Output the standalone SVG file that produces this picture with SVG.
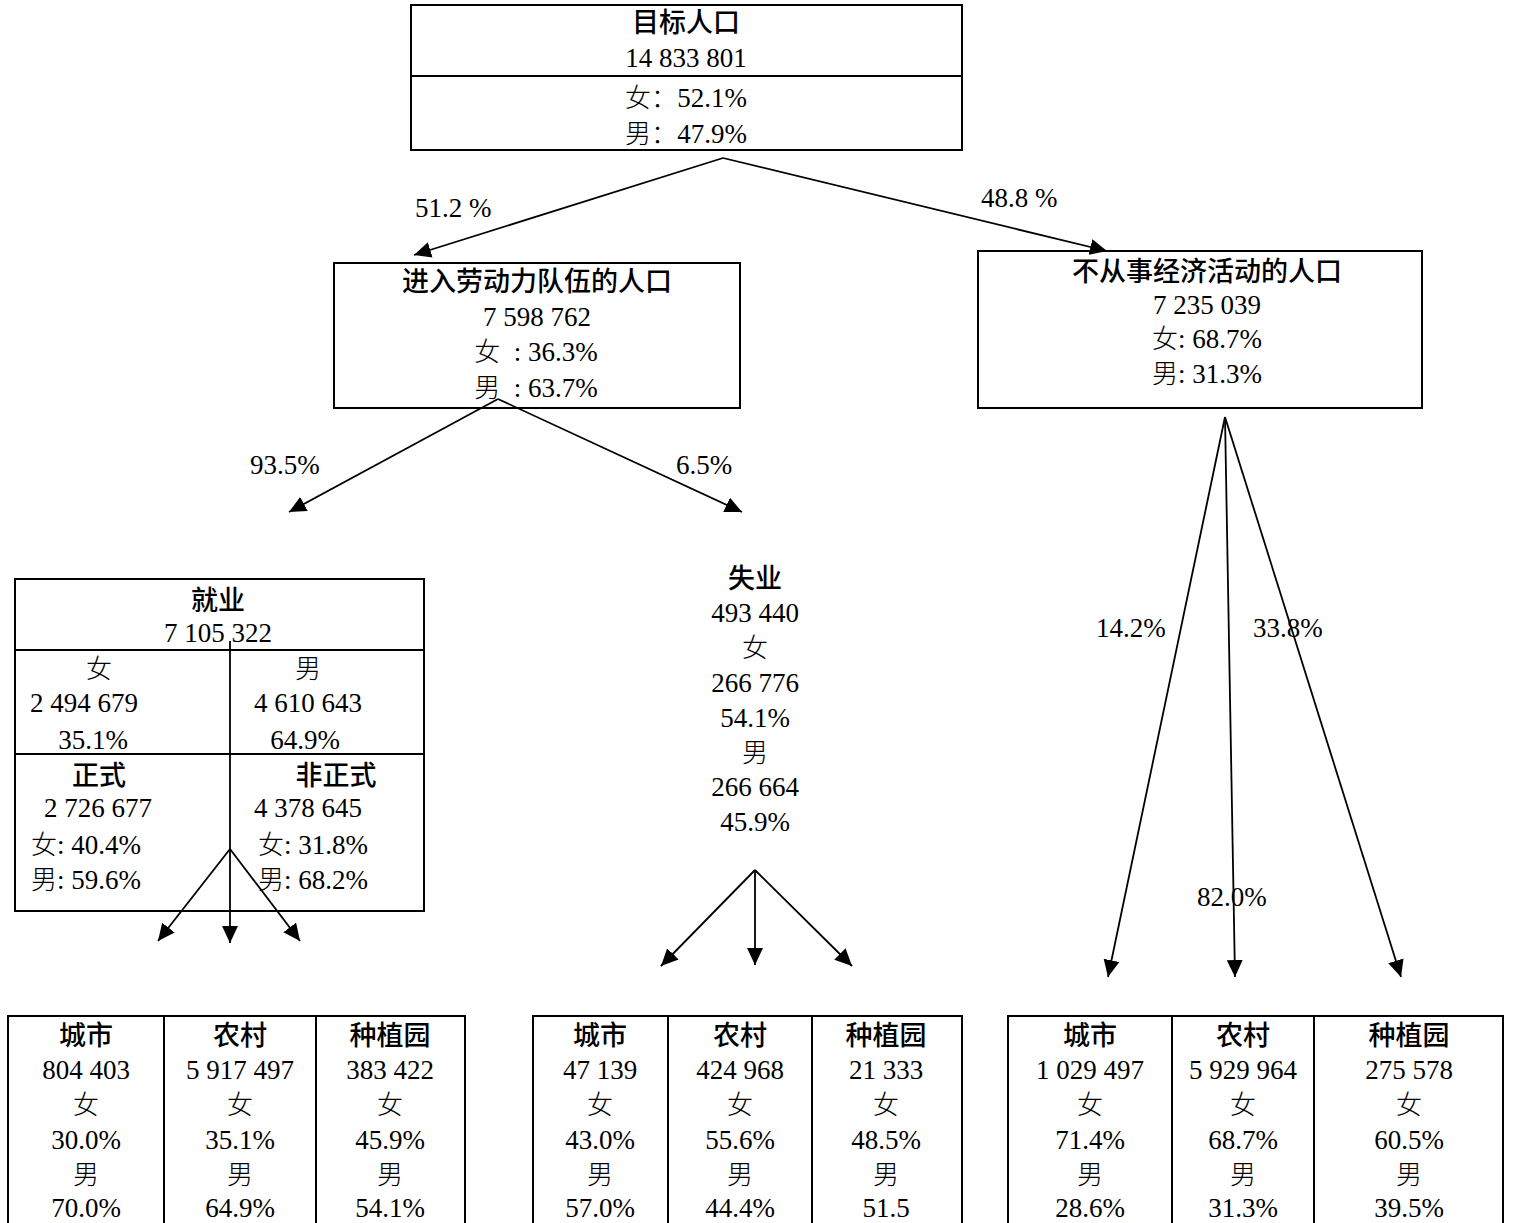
<svg xmlns="http://www.w3.org/2000/svg" width="1515" height="1223" viewBox="0 0 1515 1223">
<style>
.box{fill:#fff;stroke:#000;stroke-width:2}
.div{stroke:#000;stroke-width:2;fill:none}
text{font-family:"Liberation Serif","DejaVu Serif","Noto Serif",Tinos,"Times New Roman",Times,serif;font-size:27px;fill:#000}
.k{font-family:"Noto Sans CJK SC","Noto Sans CJK JP",sans-serif;font-weight:300;font-size:26px}
.hd{font-family:"Noto Sans CJK SC","Noto Sans CJK JP",sans-serif;font-weight:500}
.c{text-anchor:middle}
.arr{stroke:#000;stroke-width:1.8;fill:none;marker-end:url(#ah)}
</style>
<defs>
<marker id="ah" viewBox="0 0 17 16" refX="17" refY="8" markerWidth="17" markerHeight="16" markerUnits="userSpaceOnUse" orient="auto">
<path d="M0,0 L17,8 L0,16 Z" fill="#000"/>
</marker>
</defs>
<rect width="1515" height="1223" fill="#fff"/>

<g id="target">
<rect class="box" x="411" y="5" width="551" height="145"/>
<line class="div" x1="411" y1="76" x2="962" y2="76"/>
<text class="hd c" x="686" y="32">目标人口</text>
<text class="c" x="686" y="67">14 833 801</text>
<text class="c" x="686" y="107"><tspan class="k">女：</tspan>52.1%</text>
<text class="c" x="686" y="143"><tspan class="k">男：</tspan>47.9%</text>
</g>

<g id="labour">
<rect class="box" x="334" y="263" width="406" height="145"/>
<text class="hd c" x="537" y="291">进入劳动力队伍的人口</text>
<text class="c" x="537" y="326">7 598 762</text>
<text class="c" x="536" y="361" xml:space="preserve"><tspan class="k">女</tspan>  : 36.3%</text>
<text class="c" x="536" y="397" xml:space="preserve"><tspan class="k">男</tspan>  : 63.7%</text>
</g>

<g id="inactive">
<rect class="box" x="978" y="251" width="444" height="157"/>
<text class="hd c" x="1207" y="281">不从事经济活动的人口</text>
<text class="c" x="1207" y="314">7 235 039</text>
<text class="c" x="1207" y="348"><tspan class="k">女</tspan>: 68.7%</text>
<text class="c" x="1207" y="383"><tspan class="k">男</tspan>: 31.3%</text>
</g>

<g id="employed">
<rect class="box" x="15" y="579" width="409" height="332"/>
<line class="div" x1="15" y1="650" x2="424" y2="650"/>
<line class="div" x1="15" y1="754" x2="424" y2="754"/>
<text class="hd c" x="218" y="610">就业</text>
<text class="c" x="218" y="642">7 105 322</text>
<text class="k c" x="99" y="678">女</text>
<text class="k c" x="308" y="678">男</text>
<text class="c" x="84" y="712">2 494 679</text>
<text class="c" x="308" y="712">4 610 643</text>
<text class="c" x="93" y="749">35.1%</text>
<text class="c" x="305" y="749">64.9%</text>
<text class="hd c" x="99" y="785">正式</text>
<text class="hd c" x="336" y="785">非正式</text>
<text class="c" x="98" y="817">2 726 677</text>
<text class="c" x="308" y="817">4 378 645</text>
<text x="31" y="854"><tspan class="k">女</tspan>: 40.4%</text>
<text x="258" y="854"><tspan class="k">女</tspan>: 31.8%</text>
<text x="31" y="889"><tspan class="k">男</tspan>: 59.6%</text>
<text x="258" y="889"><tspan class="k">男</tspan>: 68.2%</text>
</g>

<g id="unemployed">
<text class="hd c" x="755" y="588">失业</text>
<text class="c" x="755" y="622">493 440</text>
<text class="k c" x="755" y="657">女</text>
<text class="c" x="755" y="692">266 776</text>
<text class="c" x="755" y="727">54.1%</text>
<text class="k c" x="755" y="762">男</text>
<text class="c" x="755" y="796">266 664</text>
<text class="c" x="755" y="831">45.9%</text>
</g>

<g id="table-employed">
<rect class="box" x="8" y="1016" width="457" height="220"/>
<line class="div" x1="164" y1="1016" x2="164" y2="1236"/>
<line class="div" x1="316" y1="1016" x2="316" y2="1236"/>
<text class="hd c" x="86" y="1045">城市</text>
<text class="c" x="86" y="1079">804 403</text>
<text class="k c" x="86" y="1114">女</text>
<text class="c" x="86" y="1149">30.0%</text>
<text class="k c" x="86" y="1184">男</text>
<text class="c" x="86" y="1217">70.0%</text>
<text class="hd c" x="240" y="1045">农村</text>
<text class="c" x="240" y="1079">5 917 497</text>
<text class="k c" x="240" y="1114">女</text>
<text class="c" x="240" y="1149">35.1%</text>
<text class="k c" x="240" y="1184">男</text>
<text class="c" x="240" y="1217">64.9%</text>
<text class="hd c" x="390" y="1045">种植园</text>
<text class="c" x="390" y="1079">383 422</text>
<text class="k c" x="390" y="1114">女</text>
<text class="c" x="390" y="1149">45.9%</text>
<text class="k c" x="390" y="1184">男</text>
<text class="c" x="390" y="1217">54.1%</text>
</g>

<g id="table-unemployed">
<rect class="box" x="533" y="1016" width="429" height="220"/>
<line class="div" x1="668" y1="1016" x2="668" y2="1236"/>
<line class="div" x1="812" y1="1016" x2="812" y2="1236"/>
<text class="hd c" x="600" y="1045">城市</text>
<text class="c" x="600" y="1079">47 139</text>
<text class="k c" x="600" y="1114">女</text>
<text class="c" x="600" y="1149">43.0%</text>
<text class="k c" x="600" y="1184">男</text>
<text class="c" x="600" y="1217">57.0%</text>
<text class="hd c" x="740" y="1045">农村</text>
<text class="c" x="740" y="1079">424 968</text>
<text class="k c" x="740" y="1114">女</text>
<text class="c" x="740" y="1149">55.6%</text>
<text class="k c" x="740" y="1184">男</text>
<text class="c" x="740" y="1217">44.4%</text>
<text class="hd c" x="886" y="1045">种植园</text>
<text class="c" x="886" y="1079">21 333</text>
<text class="k c" x="886" y="1114">女</text>
<text class="c" x="886" y="1149">48.5%</text>
<text class="k c" x="886" y="1184">男</text>
<text class="c" x="886" y="1217">51.5</text>
</g>

<g id="table-inactive">
<rect class="box" x="1008" y="1016" width="495" height="220"/>
<line class="div" x1="1172" y1="1016" x2="1172" y2="1236"/>
<line class="div" x1="1314" y1="1016" x2="1314" y2="1236"/>
<text class="hd c" x="1090" y="1045">城市</text>
<text class="c" x="1090" y="1079">1 029 497</text>
<text class="k c" x="1090" y="1114">女</text>
<text class="c" x="1090" y="1149">71.4%</text>
<text class="k c" x="1090" y="1184">男</text>
<text class="c" x="1090" y="1217">28.6%</text>
<text class="hd c" x="1243" y="1045">农村</text>
<text class="c" x="1243" y="1079">5 929 964</text>
<text class="k c" x="1243" y="1114">女</text>
<text class="c" x="1243" y="1149">68.7%</text>
<text class="k c" x="1243" y="1184">男</text>
<text class="c" x="1243" y="1217">31.3%</text>
<text class="hd c" x="1409" y="1045">种植园</text>
<text class="c" x="1409" y="1079">275 578</text>
<text class="k c" x="1409" y="1114">女</text>
<text class="c" x="1409" y="1149">60.5%</text>
<text class="k c" x="1409" y="1184">男</text>
<text class="c" x="1409" y="1217">39.5%</text>
</g>

<g id="connectors">
<line class="arr" x1="723" y1="158" x2="414" y2="255"/>
<line class="arr" x1="723" y1="158" x2="1107" y2="251"/>
<line class="arr" x1="498" y1="399" x2="289" y2="512"/>
<line class="arr" x1="498" y1="399" x2="742" y2="512"/>
<line class="arr" x1="1225" y1="417" x2="1108" y2="977"/>
<line class="arr" x1="1225" y1="417" x2="1235" y2="977"/>
<line class="arr" x1="1225" y1="417" x2="1401" y2="977"/>
<line class="arr" x1="230" y1="641" x2="230" y2="943"/>
<line class="arr" x1="230" y1="849" x2="158" y2="941"/>
<line class="arr" x1="230" y1="849" x2="300" y2="941"/>
<line class="arr" x1="755" y1="870" x2="661" y2="966"/>
<line class="arr" x1="755" y1="870" x2="755" y2="965"/>
<line class="arr" x1="755" y1="870" x2="852" y2="966"/>
<text x="415" y="217">51.2 %</text>
<text x="981" y="207">48.8 %</text>
<text x="250" y="474">93.5%</text>
<text x="676" y="474">6.5%</text>
<text x="1096" y="637">14.2%</text>
<text x="1253" y="637">33.8%</text>
<text x="1197" y="906">82.0%</text>
</g>
</svg>
